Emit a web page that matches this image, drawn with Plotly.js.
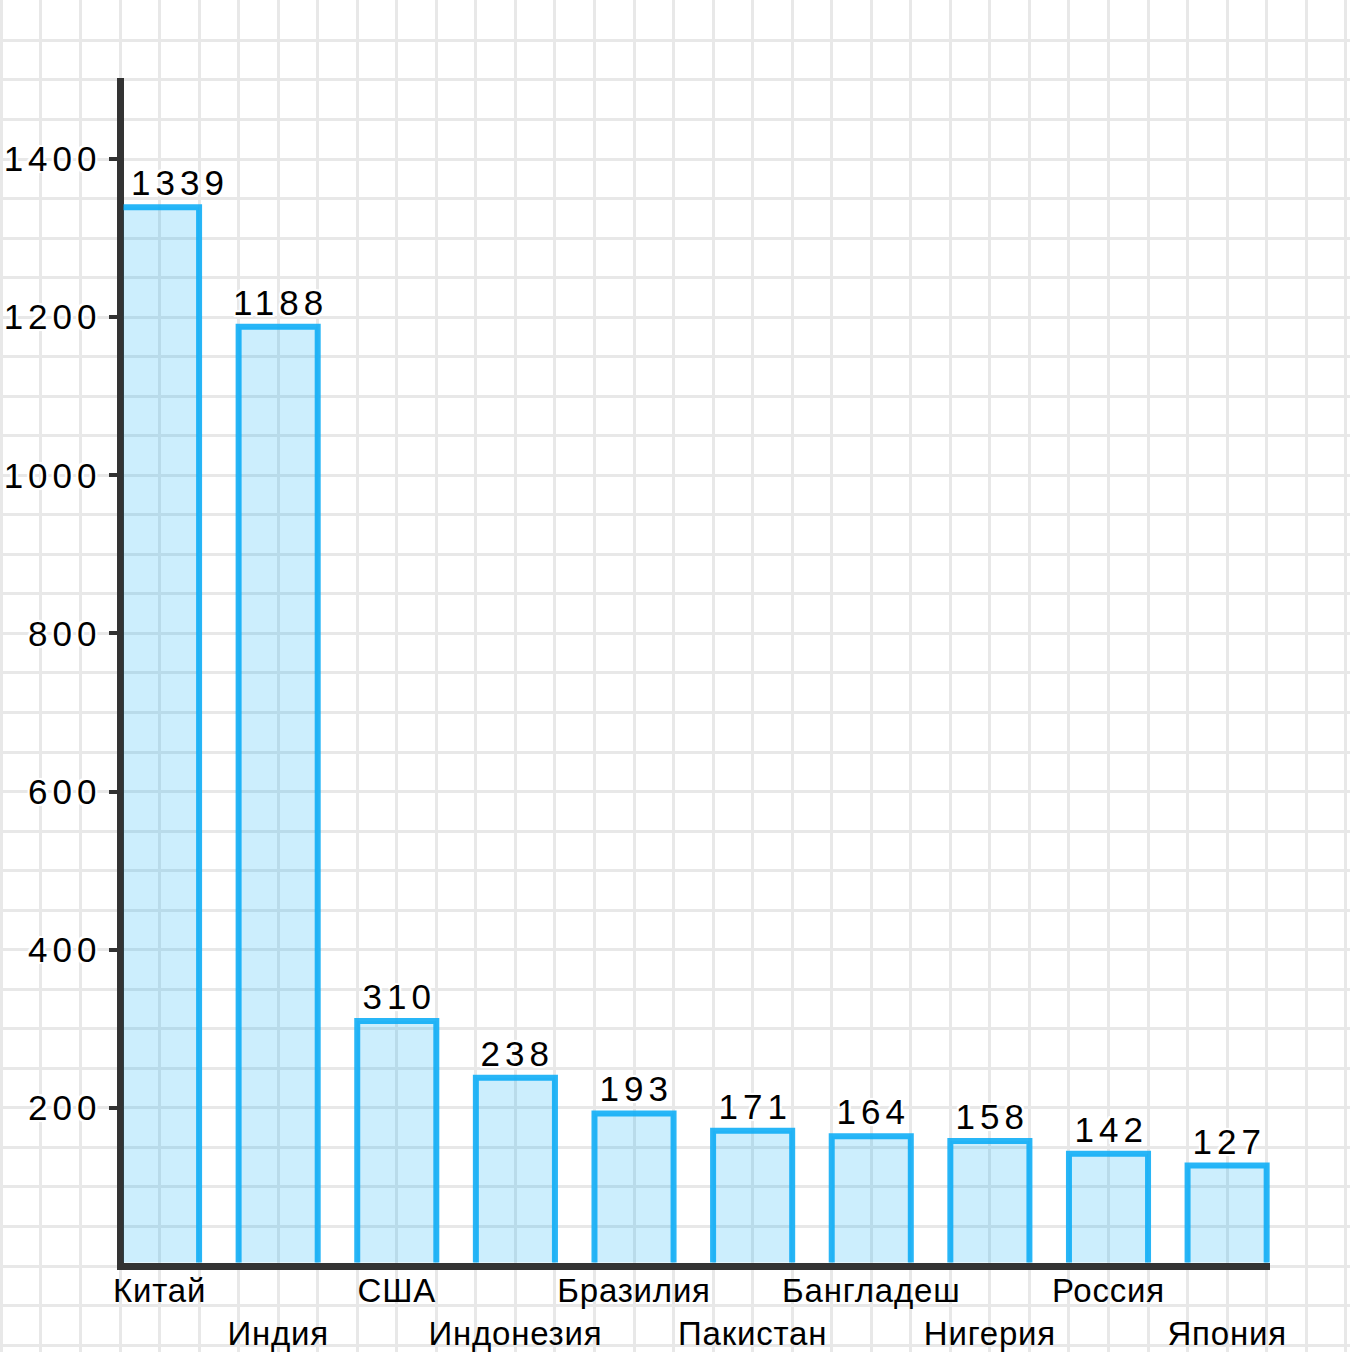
<!DOCTYPE html>
<html>
<head>
<meta charset="utf-8">
<script src="https://cdn.plot.ly/plotly-3.0.1.min.js"></script>
<style>
  html, body { margin: 0; padding: 0; background: #fff; }
  #chart { width: 1350px; height: 1352px; }
  .main-svg g.annotation text, .main-svg g.y2tick text { letter-spacing: 5px; }
  .main-svg g.x2tick text { letter-spacing: 0.8px; }
</style>
</head>
<body>
<div id="chart"></div>
<script>
// ---- data ----
const categories = ['Китай', 'Индия', 'США', 'Индонезия', 'Бразилия', 'Пакистан', 'Бангладеш', 'Нигерия', 'Россия', 'Япония'];
const values = [1339, 1188, 310, 238, 193, 171, 164, 158, 142, 127];
const yTickValues = [200, 400, 600, 800, 1000, 1200, 1400];
const yTickLabels = ['200', '400', '600', '800', '1000', '1200', '1400'];
// staggered category labels (every second one on a lower row)
const xTickLabels = categories.map((c, i) => (i % 2 ? '<br>' + c : c));

// ---- geometry (pixels) ----
const W = 1350, H = 1352;
const x0px = 120, xEndPx = 1270;      // axis line extent (line centres)
const y0px = 1266, yTopPx = 78;
const lineW = 7, half = lineW / 2;
const catPx = 118.62;                  // one category width
const pxPerUnit = 0.7907;              // vertical px per value unit
const FONT = 'Liberation Sans, Arial, sans-serif';

const textHalo = '2px 2px 0 #fff, -2px -2px 0 #fff, 2px -2px 0 #fff, -2px 2px 0 #fff, 0 0 4px #fff';

const traces = [
  { // empty trace to keep the background grid subplot
    type: 'scatter', x: [], y: [], xaxis: 'x', yaxis: 'y', showlegend: false, hoverinfo: 'skip'
  },
  {
    type: 'bar',
    x: categories,
    y: values,
    xaxis: 'x2', yaxis: 'y2',
    width: 2 / 3,
    cliponaxis: false,
    marker: {
      color: 'rgba(0,170,245,0.2)',
      line: { color: 'rgba(10,172,246,0.88)', width: 6 }
    },
    showlegend: false,
    hoverinfo: 'skip'
  }
];

const annotations = categories.map((c, i) => ({
  x: c, y: values[i], xref: 'x2', yref: 'y2',
  text: String(values[i]),
  showarrow: false,
  yanchor: 'bottom', xanchor: 'center',
  yshift: 3,
  xshift: i === 0 ? 20 : 2,
  font: { family: FONT, size: 35, color: '#000', shadow: textHalo }
}));

const layout = {
  width: W, height: H,
  margin: { l: 0, r: 0, t: 0, b: 0, pad: 0 },
  paper_bgcolor: '#ffffff',
  plot_bgcolor: 'rgba(0,0,0,0)',
  showlegend: false,
  font: { family: FONT, color: '#000' },
  annotations: annotations,
  xaxis: {
    domain: [0, 1],
    range: [-x0px / catPx, (W - x0px) / catPx],
    tick0: 0, dtick: 1 / 3,
    showgrid: true, gridcolor: '#e8e8e8', gridwidth: 3,
    zeroline: false, showline: false, showticklabels: false, ticks: '',
    fixedrange: true
  },
  yaxis: {
    domain: [0, 1],
    range: [(y0px - H) / pxPerUnit, y0px / pxPerUnit],
    tick0: 0, dtick: 50,
    showgrid: true, gridcolor: '#e8e8e8', gridwidth: 3,
    zeroline: false, showline: false, showticklabels: false, ticks: '',
    fixedrange: true
  },
  xaxis2: {
    domain: [(x0px + half) / W, (xEndPx) / W],
    anchor: 'y2',
    type: 'category',
    range: [-1 / 3 + half / catPx, (xEndPx - x0px) / catPx - 1 / 3],
    showgrid: false, zeroline: false,
    showline: true, linecolor: '#333', linewidth: lineW,
    ticks: '',
    tickmode: 'array', tickvals: categories, ticktext: xTickLabels,
    tickfont: { family: FONT, size: 33, color: '#000' },
    tickangle: 0,
    ticklabelstandoff: -7,
    automargin: false,
    layer: 'below traces',
    fixedrange: true
  },
  yaxis2: {
    domain: [(H - y0px + half) / H, (H - yTopPx) / H],
    anchor: 'x2',
    range: [half / pxPerUnit, (y0px - yTopPx) / pxPerUnit],
    showgrid: false, zeroline: false,
    showline: true, linecolor: '#333', linewidth: lineW,
    ticks: 'outside', ticklen: 8, tickwidth: 4, tickcolor: '#333',
    tickmode: 'array', tickvals: yTickValues, ticktext: yTickLabels,
    tickfont: { family: FONT, size: 35, color: '#000', shadow: textHalo },
    automargin: false,
    layer: 'below traces',
    fixedrange: true
  }
};

Plotly.newPlot('chart', traces, layout, { displayModeBar: false, staticPlot: true });
</script>
</body>
</html>
